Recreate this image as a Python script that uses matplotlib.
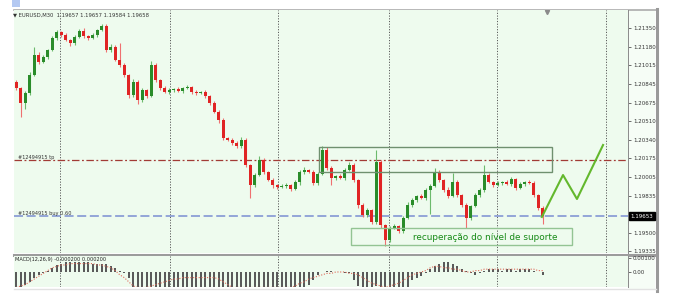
import numpy as np
import matplotlib
matplotlib.use("Agg")
import matplotlib.pyplot as plt
from matplotlib.patches import Rectangle

# ---- data ----
symbol_line = "\u25bc EURUSD,M30  1.19657 1.19657 1.19584 1.19658"
macd_line = "MACD(12,26,9) -0.000200 0.000200"

first_open = 1.20863
closes = [1.20809, 1.20673, 1.20764, 1.20926, 1.21106, 1.21043, 1.21088, 1.21151, 1.21259, 1.21314,
          1.21286, 1.21241, 1.21214, 1.21268, 1.21323, 1.21277, 1.21259, 1.21286, 1.21332, 1.21368,
          1.21151, 1.21178, 1.21061, 1.21016, 1.20926, 1.20746, 1.20863, 1.20700, 1.20791, 1.20737,
          1.21016, 1.20881, 1.20809, 1.20773, 1.20791, 1.20800, 1.20782, 1.20809, 1.20818, 1.20773,
          1.20764, 1.20773, 1.20737, 1.20673, 1.20592, 1.20520, 1.20358, 1.20340, 1.20313, 1.20286,
          1.20340, 1.20114, 1.19934, 1.20024, 1.20159, 1.20051, 1.19979, 1.19934, 1.19916, 1.19925,
          1.19934, 1.19898, 1.19961, 1.20051, 1.20069, 1.20051, 1.19952, 1.20033, 1.20250, 1.20087,
          1.19997, 1.20015, 1.19997, 1.20069, 1.20114, 1.19979, 1.19754, 1.19664, 1.19709, 1.19600,
          1.20141, 1.19573, 1.19438, 1.19546, 1.19564, 1.19519, 1.19637, 1.19754, 1.19799, 1.19835,
          1.19817, 1.19889, 1.19925, 1.20051, 1.19979, 1.19889, 1.19835, 1.19961, 1.19844, 1.19754,
          1.19637, 1.19745, 1.19844, 1.19889, 1.20024, 1.19961, 1.19934, 1.19952, 1.19961, 1.19943,
          1.19988, 1.19907, 1.19943, 1.19961, 1.19952, 1.19844, 1.19727, 1.19653]
# wick lengths beyond the body, in pips
wick_up = [2, 1, 2, 3, 7, 3, 2, 1, 2, 2, 1, 2, 1, 2, 2, 3, 1, 2, 1, 2,
           2, 3, 2, 15, 2, 1, 3, 2, 2, 1, 4, 2, 1, 2, 2, 1, 2, 1, 2, 1,
           2, 1, 2, 1, 2, 2, 2, 1, 2, 2, 3, 2, 1, 2, 4, 2, 1, 2, 1, 2,
           2, 1, 2, 2, 3, 1, 2, 2, 4, 3, 2, 1, 2, 2, 3, 2, 1, 2, 2, 1,
           11, 2, 1, 2, 2, 1, 2, 3, 2, 1, 2, 2, 2, 4, 2, 1, 3, 8, 2, 1,
           2, 1, 2, 2, 9, 2, 1, 2, 1, 2, 2, 1, 2, 1, 2, 2, 1, 2]
wick_dn = [2, 13, 5, 2, 1, 2, 1, 2, 1, 2, 2, 1, 3, 2, 1, 2, 2, 1, 2, 1,
           2, 2, 1, 2, 2, 3, 2, 4, 2, 2, 1, 2, 2, 1, 2, 2, 1, 2, 1, 2,
           2, 1, 2, 2, 1, 3, 2, 1, 2, 2, 2, 2, 12, 2, 1, 2, 1, 3, 2, 1,
           2, 2, 1, 3, 2, 1, 2, 2, 1, 2, 6, 2, 1, 2, 1, 2, 3, 2, 2, 2,
           2, 3, 5, 2, 1, 2, 2, 1, 2, 2, 1, 2, 22, 1, 2, 2, 2, 1, 2, 2,
           9, 2, 1, 2, 2, 1, 2, 1, 2, 1, 2, 2, 1, 2, 1, 2, 2, 7]

# MACD histogram and signal, in units of 0.0001
macd_hist = [-11, -11, -9, -7, -4, -2, -1, 1, 3, 5, 6, 7, 7, 7, 7, 7, 7, 6, 6, 6,
             6, 4, 3, 1, -1, -4, -11, -11, -11, -11, -11, -11, -11, -11, -11, -11, -11, -11, -11, -11,
             -11, -11, -11, -11, -11, -11, -11, -11, -11, -11, -11, -11, -11, -11, -11, -11, -11, -11, -11, -11,
             -11, -11, -11, -11, -11, -9, -6, -2, 0, 1, 1, 0, 0, -1, -1, -6, -10, -11, -11, -11,
             -10, -11, -11, -11, -11, -11, -11, -11, -6, -4, -3, -1, 2, 4, 6, 7, 7, 6, 4, 2,
             1, -1, -2, -1, 1, 2, 2, 2, 1, 2, 2, 1, 2, 2, 2, 1, 0, -2]
macd_signal = [-11, -10, -9, -7, -5, -3, -1, 1, 3, 4, 5, 5, 6, 6, 6, 6, 6, 6, 5, 5,
               4, 3, 1, -2, -4, -7, -10, -11, -11, -11, -10, -9, -8, -7, -6, -5, -5, -4, -4, -4,
               -4, -4, -4, -4, -4, -5, -7, -9, -11, -11, -11, -11, -11, -11, -11, -11, -11, -11, -11, -11,
               -11, -11, -10, -8, -7, -5, -4, -3, -2, -1, -1, 0, 0, 0, -1, -1, -2, -4, -6, -8,
               -9, -10, -11, -10, -9, -8, -6, -4, -2, -1, 0, 1, 3, 4, 4, 3, 3, 2, 2, 1,
               0, 0, 1, 1, 2, 2, 2, 2, 2, 2, 2, 2, 2, 2, 2, 2, 1, 1]

price_ticks = [1.21350, 1.21180, 1.21015, 1.20845, 1.20675, 1.20510, 1.20340,
               1.20175, 1.20005, 1.19835, 1.19500, 1.19335]
macd_ticks = [0.00100, 0.0]
macd_tick_labels = ["0.00100", "0.00"]

tp_level = 1.20160
buy_level = 1.19653
tp_label = "#12494915 tp"
buy_label = "#12494915 buy 0.60"

# zones: (bar from, bar to, price low, price high)
resist_zone = (67.3, 119.1, 1.20051, 1.20277)
support_zone = (74.4, 123.5, 1.19393, 1.19546)
note = "recupera\u00e7\u00e3o do n\u00edvel de suporte"
note_pos = (104.2, 1.19465)

proj_bars = [116.8, 121.5, 124.6, 130.4]
proj_prices = [1.19646, 1.20024, 1.19808, 1.20295]

grid_bars = [9.7, 34.2, 58.2, 82.8, 106.8, 131.1]

# ---- build candles ----
pip = 0.0001
closes = np.array(closes)
opens = np.r_[first_open, closes[:-1]]
highs = np.maximum(opens, closes) + np.array(wick_up) * pip
lows = np.minimum(opens, closes) - np.array(wick_dn) * pip
x = np.arange(len(closes))
up = closes >= opens

W, H = 677, 300
fig = plt.figure(figsize=(W / 100, H / 100), dpi=100)
fig.patch.set_facecolor("white")


def frac(l, t, r, b):
    return [l / W, 1 - b / H, (r - l) / W, (b - t) / H]


# background/frame layer in pixel coords
bg = fig.add_axes([0, 0, 1, 1], zorder=-5)
bg.set_xlim(0, W)
bg.set_ylim(H, 0)
bg.axis("off")
bg.add_patch(Rectangle((628, 9), 27, 280, fc="#f6fdf6", ec="none"))
bg.add_patch(Rectangle((12, 0), 8, 7, fc="#b4c9f2", ec="none"))
bg.plot([14, 656], [9.5, 9.5], color="#acacac", lw=1.2)
bg.plot([14, 656], [254.5, 254.5], color="#9c9c9c", lw=2.2)
bg.plot([656.5, 656.5], [9, 291], color="#9a9a9a", lw=2.2)
bg.plot([14, 656], [289, 289], color="#e2e2e2", lw=1)

green_bg = "#eefbee"
ax = fig.add_axes(frac(14, 10, 628, 253))
axm = fig.add_axes(frac(14, 256, 628, 287), sharex=ax)
for a in (ax, axm):
    a.set_facecolor(green_bg)
    for s in ("left", "top", "bottom"):
        a.spines[s].set_visible(False)
    a.spines["right"].set_color("#8a8a8a")
    a.spines["right"].set_linewidth(0.7)
    a.yaxis.tick_right()
    a.tick_params(axis="y", labelsize=4, length=2, width=0.5, pad=1.5,
                  colors="#333333")
    a.tick_params(axis="x", bottom=False, labelbottom=False)
    for g in grid_bars:
        a.axvline(g, color="#5a5a5a", lw=0.7, ls=(0, (1.2, 1.6)), zorder=1)

ax.set_xlim(-0.5, 135.94)
ax.set_ylim(1.19321, 1.21512)
ax.set_yticks(price_ticks)
ax.set_yticklabels(["%.5f" % p for p in price_ticks])

# candles
col_body = np.where(up, "#2a8c2a", "#e02424")
col_wick = np.where(up, "#6cba6c", "#ef7070")
ax.vlines(x, lows, highs, colors=col_wick, lw=0.8, zorder=3)
body = np.maximum(np.abs(closes - opens), 0.00003)
ax.bar(x, body, bottom=np.minimum(opens, closes), width=0.62,
       color=col_body, lw=0, zorder=4)

# order lines
ax.axhline(tp_level, color="#a23b35", lw=0.9, ls=(0, (6, 2, 1.5, 2)), zorder=2)
ax.axhline(buy_level, color="#8c9ed6", lw=1.3, ls=(0, (5, 2)), zorder=2)
ax.text(0.3, tp_level + 0.00004, tp_label, fontsize=3.6, color="#333333",
        va="bottom", ha="left")
ax.text(0.3, buy_level + 0.00004, buy_label, fontsize=3.6, color="#333333",
        va="bottom", ha="left")

# zones
for (b0, b1, lo, hi), ec in ((resist_zone, "#6f906f"), (support_zone, "#93c493")):
    ax.add_patch(Rectangle((b0, lo), b1 - b0, hi - lo, fill=False, ec=ec,
                           lw=1.0, zorder=5))
ax.text(note_pos[0], note_pos[1], note, ha="center", va="center",
        color="#178a17", fontsize=6.4, zorder=6)

# projected path
ax.plot(proj_bars, proj_prices, color="#63b82d", lw=1.5, zorder=6)

# shift marker
ax.plot([117.9], [1.21494], marker="v", color="#8a8a8a", ms=3, zorder=6)

# current price tag
ax.text(1.004, buy_level, "%.5f" % buy_level, transform=ax.get_yaxis_transform(),
        fontsize=4, color="white", va="center", ha="left",
        bbox=dict(boxstyle="square,pad=0.25", fc="black", ec="black"))

# header
fig.text(13 / W, 1 - 15 / H, symbol_line, fontsize=3.8, color="#333333",
         va="center", ha="left")

# MACD panel
hist = np.array(macd_hist) * 1e-4
sig = np.array(macd_signal) * 1e-4
axm.set_ylim(-0.00107, 0.00114)
axm.bar(x, hist, width=0.42, color="#5a5a5a", lw=0, zorder=3)
axm.plot(x, sig, color="#e06a5a", lw=0.8, ls=(0, (1, 1.5)), zorder=4)
axm.set_yticks(macd_ticks)
axm.set_yticklabels(macd_tick_labels)
axm.text(0.002, 0.97, macd_line, transform=axm.transAxes, fontsize=3.6,
         color="#222222", va="top", ha="left", zorder=5)

fig.savefig("out.png", dpi=100)
